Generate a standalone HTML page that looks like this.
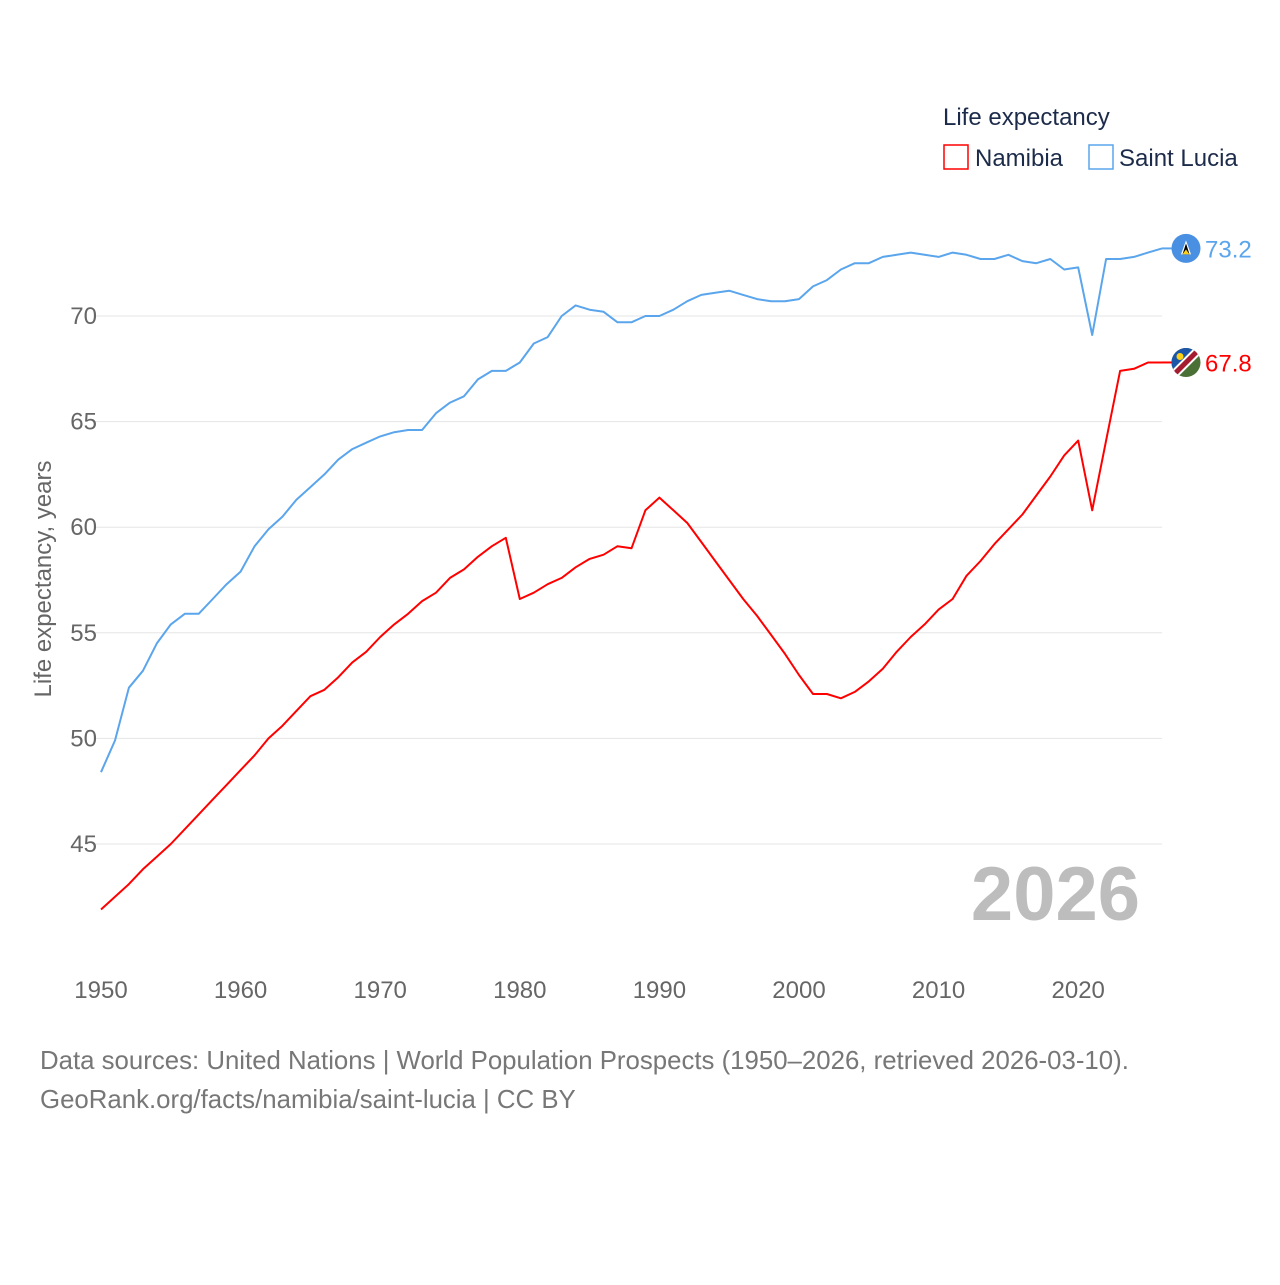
<!DOCTYPE html>
<html><head><meta charset="utf-8"><style>
body{margin:0;background:#fff;width:1280px;height:1280px;overflow:hidden;font-family:"Liberation Sans",sans-serif}
svg text{font-family:"Liberation Sans",sans-serif}
</style></head><body>
<svg id="chart" width="1280" height="1280" xmlns="http://www.w3.org/2000/svg">
<g id="grid"></g>
<g id="yticks"></g>
<g id="xticks"></g>
<text transform="translate(51,579) rotate(-90)" text-anchor="middle" font-size="24" fill="#666">Life expectancy, years</text>
<text x="1140" y="920" text-anchor="end" font-size="76" font-weight="bold" fill="#bdbdbd">2026</text>
<g>
<text x="943" y="125" font-size="24" fill="#1d2b4a">Life expectancy</text>
<rect x="944" y="145" width="24" height="24" fill="none" stroke="#f00" stroke-width="1.5"/>
<text x="975" y="166" font-size="24" fill="#1d2b4a">Namibia</text>
<rect x="1089" y="145" width="24" height="24" fill="none" stroke="#5aa5ec" stroke-width="1.5"/>
<text x="1119" y="166" font-size="24" fill="#1d2b4a">Saint Lucia</text>
</g>
<g id="series"></g>
<text x="40" y="1069" font-size="25.8" fill="#777">Data sources: United Nations | World Population Prospects (1950–2026, retrieved 2026-03-10).</text>
<text x="40" y="1108" font-size="25.8" fill="#777">GeoRank.org/facts/namibia/saint-lucia | CC BY</text>
</svg>
<script>
const years = [];
for (let y = 1950; y <= 2026; y++) years.push(y);
const saintLucia = [48.4,49.9,52.4,53.2,54.5,55.4,55.9,55.9,56.6,57.3,57.9,59.1,59.9,60.5,61.3,61.9,62.5,63.2,63.7,64.0,64.3,64.5,64.6,64.6,65.4,65.9,66.2,67.0,67.4,67.4,67.8,68.7,69.0,70.0,70.5,70.3,70.2,69.7,69.7,70.0,70.0,70.3,70.7,71.0,71.1,71.2,71.0,70.8,70.7,70.7,70.8,71.4,71.7,72.2,72.5,72.5,72.8,72.9,73.0,72.9,72.8,73.0,72.9,72.7,72.7,72.9,72.6,72.5,72.7,72.2,72.3,69.1,72.7,72.7,72.8,73.0,73.2];
const namibia = [41.9,42.5,43.1,43.8,44.4,45.0,45.7,46.4,47.1,47.8,48.5,49.2,50.0,50.6,51.3,52.0,52.3,52.9,53.6,54.1,54.8,55.4,55.9,56.5,56.9,57.6,58.0,58.6,59.1,59.5,56.6,56.9,57.3,57.6,58.1,58.5,58.7,59.1,59.0,60.8,61.4,60.8,60.2,59.3,58.4,57.5,56.6,55.8,54.9,54.0,53.0,52.1,52.1,51.9,52.2,52.7,53.3,54.1,54.8,55.4,56.1,56.6,57.7,58.4,59.2,59.9,60.6,61.5,62.4,63.4,64.1,60.8,64.1,67.4,67.5,67.8,67.8];
const yTicks = [45,50,55,60,65,70];
const xTicks = [1950,1960,1970,1980,1990,2000,2010,2020];
const NS = "http://www.w3.org/2000/svg";
const xs = v => 101 + (v - 1950) * 13.96;
const ys = v => 316 - (v - 70) * 21.12;
function mk(tag, attrs, parent, txt) {
  const e = document.createElementNS(NS, tag);
  for (const k in attrs) e.setAttribute(k, attrs[k]);
  if (txt !== undefined) e.textContent = txt;
  parent.appendChild(e); return e;
}
const grid = document.getElementById('grid'), yt = document.getElementById('yticks'), xt = document.getElementById('xticks'), ser = document.getElementById('series');
yTicks.forEach(t => {
  const l = mk('line', {x1: 95, x2: 1162, y1: ys(t), y2: ys(t), stroke: '#e6e6e6', 'stroke-width': 1}, grid);
  
  
  const tx = mk('text', {x: 97, y: ys(t) + 8, 'text-anchor': 'end', 'font-size': 24, fill: '#666'}, yt, String(t));
  
  
});
xTicks.forEach(t => {
  const tx = mk('text', {x: xs(t), y: 998, 'text-anchor': 'middle', 'font-size': 24, fill: '#666'}, xt, String(t));
  
  
});
function line(vals, color, name) {
  const d = vals.map((v, i) => (i ? 'L' : 'M') + xs(years[i]).toFixed(1) + ',' + ys(v).toFixed(1)).join(' ');
  const p = mk('path', {d: d, fill: 'none', stroke: color, 'stroke-width': 2, 'stroke-linejoin': 'round'}, ser);
  
  
  const last = vals[vals.length - 1], yy = ys(last);
  const c = mk('line', {x1: xs(2026), x2: 1176, y1: yy, y2: yy, stroke: color, 'stroke-width': 2}, ser);
  
  
  const lab = mk('text', {x: 1205, y: yy + 9, 'font-size': 24, fill: color}, ser, last.toFixed(1));
  
  
  return yy;
}
const ySL = line(saintLucia, '#5aa5ec', 'saint-lucia');
const yNA = line(namibia, '#ff0000', 'namibia');
const f1 = mk('g', {}, ser);


mk('circle', {cx: 1186, cy: ySL, r: 14.5, fill: '#4a90e2'}, f1);
mk('polygon', {points: `1186,${ySL-8} 1181,${ySL+6} 1191,${ySL+6}`, fill: '#fff'}, f1);
mk('polygon', {points: `1186,${ySL-5} 1182.5,${ySL+6} 1189.5,${ySL+6}`, fill: '#000'}, f1);
mk('polygon', {points: `1186,${ySL+1} 1182.5,${ySL+6} 1189.5,${ySL+6}`, fill: '#fcd116'}, f1);
const f2 = mk('g', {}, ser);


const clip = mk('clipPath', {id: 'nc'}, f2);
mk('circle', {cx: 1186, cy: yNA, r: 14.5}, clip);
const g2 = mk('g', {'clip-path': 'url(#nc)'}, f2);
mk('rect', {x: 1170, y: yNA - 16, width: 32, height: 32, fill: '#4a7035'}, g2);
mk('polygon', {points: `1170,${yNA-16} 1202,${yNA-16} 1170,${yNA+16}`, fill: '#1b56a8'}, g2);
mk('line', {x1: 1168, y1: yNA + 18, x2: 1204, y2: yNA - 18, stroke: '#fff', 'stroke-width': 9}, g2);
mk('line', {x1: 1168, y1: yNA + 18, x2: 1204, y2: yNA - 18, stroke: '#a51c30', 'stroke-width': 5}, g2);
mk('circle', {cx: 1180, cy: yNA - 6, r: 3.5, fill: '#fcd116'}, g2);
</script>
</body></html>
